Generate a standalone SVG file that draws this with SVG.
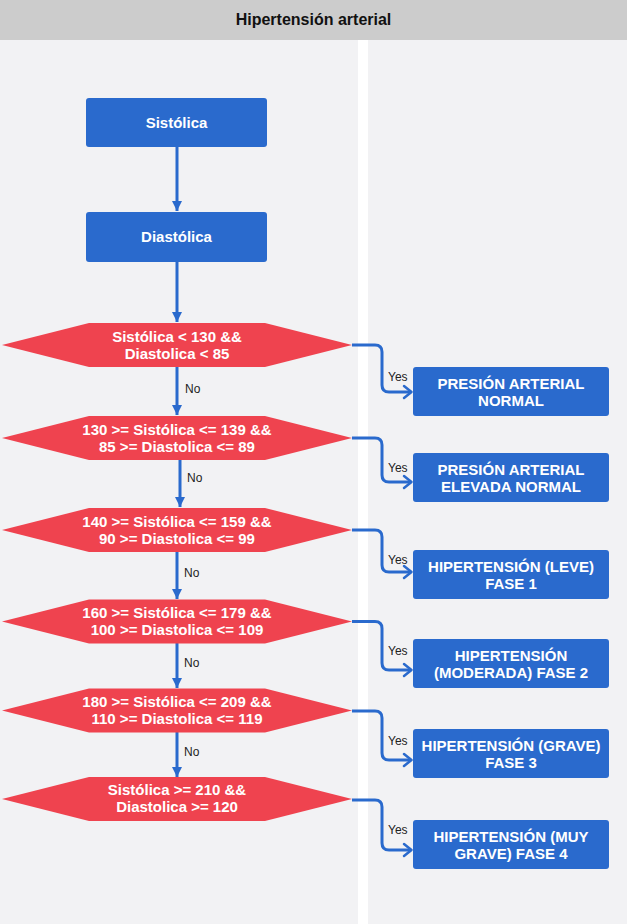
<svg xmlns="http://www.w3.org/2000/svg" width="627" height="924" viewBox="0 0 627 924">
<defs>
<style>
.lane{fill:#f2f2f4}
.box{fill:#2a6acd}
.dec{fill:#ef434f}
.t{font-family:"Liberation Sans",Arial,sans-serif;font-weight:bold;font-size:15px;fill:#fff;text-anchor:middle}
.lbl{font-family:"Liberation Sans",Arial,sans-serif;font-size:12px;fill:#222}
.ln{fill:none;stroke:#2a6acd;stroke-width:3}
.hd{fill:none;stroke:#2a6acd;stroke-width:2.5;stroke-linecap:round;stroke-linejoin:round}
</style>
<marker id="tri" viewBox="0 0 10 10" refX="10" refY="5" markerWidth="11" markerHeight="10" markerUnits="userSpaceOnUse" orient="auto">
<path d="M0,0 L10,5 L0,10 z" fill="#2a6acd"/>
</marker>
</defs>
<rect width="627" height="924" fill="#ffffff"/>
<rect x="0" y="0" width="627" height="40" fill="#cccccc"/>
<text x="313.5" y="24.5" font-family="'Liberation Sans',Arial,sans-serif" font-size="16" font-weight="bold" fill="#111" text-anchor="middle">Hipertensión arterial</text>
<rect class="lane" x="0" y="40" width="358" height="884"/>
<rect class="lane" x="368" y="40" width="259" height="884"/>

<g id="connectors">
<path class="ln" d="M177,147 V211" marker-end="url(#tri)"/>
<path class="ln" d="M177,262 V322" marker-end="url(#tri)"/>
<path class="ln" d="M177,367 V415" marker-end="url(#tri)"/>
<path class="ln" d="M180,460 V507" marker-end="url(#tri)"/>
<path class="ln" d="M177,552 V599" marker-end="url(#tri)"/>
<path class="ln" d="M177,643 V688" marker-end="url(#tri)"/>
<path class="ln" d="M177,732 V777" marker-end="url(#tri)"/>

<path class="ln" d="M352,345 H375 Q382,345 382,352 V385 Q382,392 389,392 H411"/>
<path class="hd" d="M404,386 L411.5,392 L404,398"/>
<path class="ln" d="M352,438 H375 Q382,438 382,445 V475 Q382,482 389,482 H411"/>
<path class="hd" d="M404,476 L411.5,482 L404,488"/>
<path class="ln" d="M352,530 H375 Q382,530 382,537 V565 Q382,572 389,572 H411"/>
<path class="hd" d="M404,566 L411.5,572 L404,578"/>
<path class="ln" d="M352,621.5 H375 Q382,621.5 382,628.5 V663 Q382,670 389,670 H411"/>
<path class="hd" d="M404,664 L411.5,670 L404,676"/>
<path class="ln" d="M352,711 H375 Q382,711 382,718 V753 Q382,760 389,760 H411"/>
<path class="hd" d="M404,754 L411.5,760 L404,766"/>
<path class="ln" d="M352,800 H375 Q382,800 382,807 V843 Q382,850 389,850 H411"/>
<path class="hd" d="M404,844 L411.5,850 L404,856"/>

<text class="lbl" x="185" y="393">No</text>
<text class="lbl" x="187" y="482">No</text>
<text class="lbl" x="184" y="577">No</text>
<text class="lbl" x="184" y="667">No</text>
<text class="lbl" x="184" y="756">No</text>
<text class="lbl" x="388" y="381">Yes</text>
<text class="lbl" x="388" y="472">Yes</text>
<text class="lbl" x="388" y="564">Yes</text>
<text class="lbl" x="388" y="655">Yes</text>
<text class="lbl" x="388" y="745">Yes</text>
<text class="lbl" x="388" y="834">Yes</text>
</g>

<g id="sistolica">
<rect class="box" x="86" y="98" width="181" height="49" rx="3"/>
<text class="t" x="176.5" y="128">Sistólica</text>
</g>
<g id="diastolica">
<rect class="box" x="86" y="212" width="181" height="50" rx="3"/>
<text class="t" x="176.5" y="242">Diastólica</text>
</g>

<g id="d1">
<polygon class="dec" points="2,345 89,323 265,323 352,345 265,367 89,367"/>
<text class="t" x="177" y="342">Sistólica &lt; 130 &amp;&amp;</text>
<text class="t" x="177" y="359">Diastolica &lt; 85</text>
</g>
<g id="d2">
<polygon class="dec" points="2,438 89,416 265,416 352,438 265,460 89,460"/>
<text class="t" x="177" y="435">130 &gt;= Sistólica &lt;= 139 &amp;&amp;</text>
<text class="t" x="177" y="452">85 &gt;= Diastolica &lt;= 89</text>
</g>
<g id="d3">
<polygon class="dec" points="2,530 89,508 265,508 352,530 265,552 89,552"/>
<text class="t" x="177" y="527">140 &gt;= Sistólica &lt;= 159 &amp;&amp;</text>
<text class="t" x="177" y="544">90 &gt;= Diastolica &lt;= 99</text>
</g>
<g id="d4">
<polygon class="dec" points="2,621.5 89,599.5 265,599.5 352,621.5 265,643.5 89,643.5"/>
<text class="t" x="177" y="618">160 &gt;= Sistólica &lt;= 179 &amp;&amp;</text>
<text class="t" x="177" y="635">100 &gt;= Diastolica &lt;= 109</text>
</g>
<g id="d5">
<polygon class="dec" points="2,710.5 89,688.5 265,688.5 352,710.5 265,732.5 89,732.5"/>
<text class="t" x="177" y="707">180 &gt;= Sistólica &lt;= 209 &amp;&amp;</text>
<text class="t" x="177" y="724">110 &gt;= Diastolica &lt;= 119</text>
</g>
<g id="d6">
<polygon class="dec" points="2,799 89,777 265,777 352,799 265,821 89,821"/>
<text class="t" x="177" y="795">Sistólica &gt;= 210 &amp;&amp;</text>
<text class="t" x="177" y="812">Diastolica &gt;= 120</text>
</g>

<g id="r1">
<rect class="box" x="413" y="367" width="196" height="49" rx="3"/>
<text class="t" x="511" y="389">PRESIÓN ARTERIAL</text>
<text class="t" x="511" y="406">NORMAL</text>
</g>
<g id="r2">
<rect class="box" x="413" y="453" width="196" height="49" rx="3"/>
<text class="t" x="511" y="475">PRESIÓN ARTERIAL</text>
<text class="t" x="511" y="492">ELEVADA NORMAL</text>
</g>
<g id="r3">
<rect class="box" x="413" y="550" width="196" height="49" rx="3"/>
<text class="t" x="511" y="572">HIPERTENSIÓN (LEVE)</text>
<text class="t" x="511" y="589">FASE 1</text>
</g>
<g id="r4">
<rect class="box" x="413" y="639" width="196" height="49" rx="3"/>
<text class="t" x="511" y="661">HIPERTENSIÓN</text>
<text class="t" x="511" y="678">(MODERADA) FASE 2</text>
</g>
<g id="r5">
<rect class="box" x="413" y="729" width="196" height="49" rx="3"/>
<text class="t" x="511" y="751">HIPERTENSIÓN (GRAVE)</text>
<text class="t" x="511" y="768">FASE 3</text>
</g>
<g id="r6">
<rect class="box" x="413" y="820" width="196" height="49" rx="3"/>
<text class="t" x="511" y="842">HIPERTENSIÓN (MUY</text>
<text class="t" x="511" y="859">GRAVE) FASE 4</text>
</g>
</svg>
